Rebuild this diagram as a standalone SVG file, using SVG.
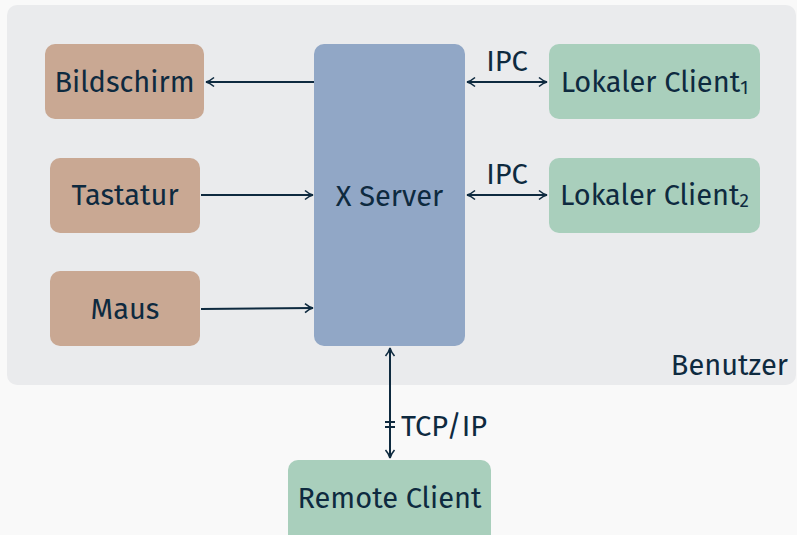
<svg xmlns="http://www.w3.org/2000/svg" width="797" height="535" viewBox="0 0 797 535">
<defs>
<marker id="ah" viewBox="0 0 12 12" refX="11" refY="6" markerWidth="12" markerHeight="12" markerUnits="userSpaceOnUse" orient="auto-start-reverse">
<path d="M3,1.5 Q7,5 11,6 Q7,7 3,10.5" fill="none" stroke="#0e2a3f" stroke-width="1.6"/>
</marker>
<style>
text{font-family:"Fira Sans","Open Sans","Noto Sans",sans-serif;fill:#0e2a3f;font-size:29px}
.c{text-anchor:middle;dominant-baseline:central}
.in{fill:#c9a893}
.srv{fill:#91a7c6}
.cl{fill:#a9cfbc}
.ln{stroke:#0e2a3f;stroke-width:2;fill:none}
</style>
</defs>
<rect width="797" height="535" fill="#f9f9f9"/>
<g id="benutzer">
<rect x="7" y="5" width="789" height="380" rx="10" fill="#eaebed"/>
<text x="788" y="375" text-anchor="end">Benutzer</text>
</g>
<g id="bildschirm"><rect class="in" x="45" y="44" width="159" height="75" rx="10"/><text class="c" x="124.5" y="82">Bildschirm</text></g>
<g id="tastatur"><rect class="in" x="50" y="158" width="150" height="75" rx="10"/><text class="c" x="125" y="195">Tastatur</text></g>
<g id="maus"><rect class="in" x="50" y="271" width="150" height="75" rx="10"/><text class="c" x="125" y="309">Maus</text></g>
<g id="xserver"><rect class="srv" x="314" y="44" width="151" height="302" rx="10"/><text class="c" x="389.5" y="196">X Server</text></g>
<g id="client1"><rect class="cl" x="549" y="44" width="211" height="75" rx="10"/><text class="c" x="654.5" y="82">Lokaler Client<tspan font-size="19" dy="5">1</tspan></text></g>
<g id="client2"><rect class="cl" x="549" y="158" width="211" height="75" rx="10"/><text class="c" x="654.5" y="195">Lokaler Client<tspan font-size="19" dy="5">2</tspan></text></g>
<g id="remote"><rect class="cl" x="288" y="460" width="203" height="85" rx="10"/><text class="c" x="389.5" y="498">Remote Client</text></g>
<g id="connectors">
<line class="ln" x1="314" y1="82" x2="206" y2="82" marker-end="url(#ah)"/>
<line class="ln" x1="201" y1="195" x2="313" y2="195" marker-end="url(#ah)"/>
<line class="ln" x1="201" y1="309" x2="313" y2="308" marker-end="url(#ah)"/>
<line class="ln" x1="467" y1="82" x2="547" y2="82" marker-start="url(#ah)" marker-end="url(#ah)"/>
<line class="ln" x1="467" y1="195" x2="547" y2="195" marker-start="url(#ah)" marker-end="url(#ah)"/>
<line class="ln" x1="390" y1="348" x2="390" y2="458" marker-start="url(#ah)" marker-end="url(#ah)"/>
<line class="ln" x1="385" y1="422" x2="395" y2="422" stroke-width="1.5"/>
<line class="ln" x1="385" y1="427" x2="395" y2="427" stroke-width="1.5"/>
<text x="507" y="71" text-anchor="middle">IPC</text>
<text x="507" y="184" text-anchor="middle">IPC</text>
<text x="401" y="436">TCP/IP</text>
</g>
</svg>
